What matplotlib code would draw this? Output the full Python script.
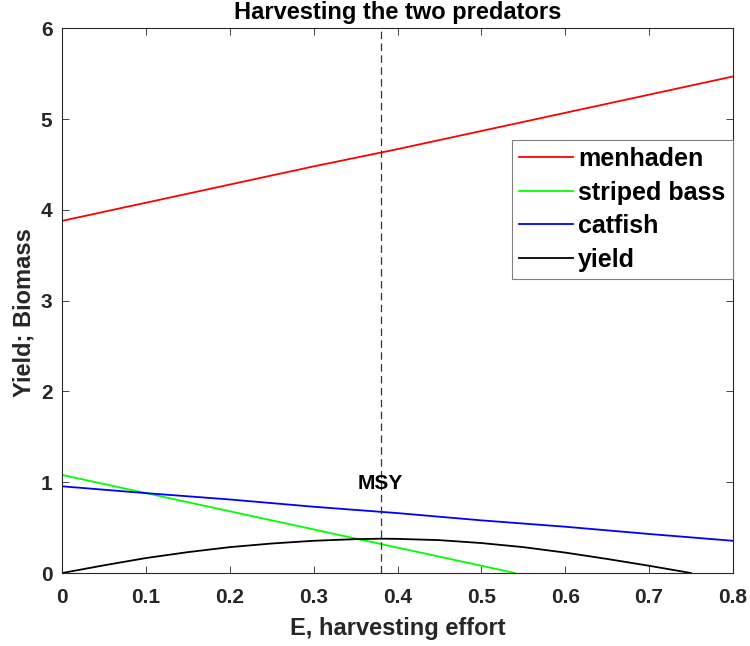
import numpy as np
import matplotlib.pyplot as plt

plt.rcParams['font.family'] = ['Liberation Sans', 'DejaVu Sans']
plt.rcParams['font.weight'] = 'bold'

# values
E_lin = [0.0, 0.1, 0.2, 0.3, 0.4, 0.5, 0.6, 0.7, 0.8]
menhaden = [3.88, 4.08, 4.28, 4.48, 4.67, 4.87, 5.07, 5.27, 5.47]
catfish = [0.955, 0.88, 0.81, 0.73, 0.66, 0.58, 0.51, 0.43, 0.355]

E_bass = [0.0, 0.1, 0.2, 0.3, 0.4, 0.5, 0.54]
striped_bass = [1.08, 0.88, 0.68, 0.48, 0.28, 0.08, 0.0]

E_yield = [0.0, 0.05, 0.1, 0.15, 0.2, 0.25, 0.3, 0.35, 0.38, 0.4,
           0.45, 0.5, 0.55, 0.6, 0.65, 0.7, 0.75]
yield_ = [0.0, 0.085, 0.165, 0.23, 0.285, 0.325, 0.355, 0.373, 0.378, 0.376,
          0.362, 0.33, 0.285, 0.225, 0.155, 0.08, 0.0]

E_msy = 0.38
msy_label_y = 0.99

txt = '#262626'

fig = plt.figure(figsize=(7.5, 6.46), dpi=100)
ax = fig.add_axes([0.083, 0.113, 0.894, 0.843])

ax.plot(E_lin, menhaden, color=(1, 0, 0), lw=1.3, label='menhaden')
ax.plot(E_bass, striped_bass, color=(0, 1, 0), lw=1.3, label='striped bass')
ax.plot(E_lin, catfish, color=(0, 0, 1), lw=1.3, label='catfish')
ax.plot(E_yield, yield_, color='k', lw=1.3, label='yield')

ax.axvline(E_msy, color='#333333', lw=0.9, ls=(0, (6, 3.5)))
ax.text(E_msy, msy_label_y, 'MSY', ha='center', va='center',
        fontsize=15, fontweight='bold', color='k')

ax.set_xlim(0, 0.8)
ax.set_ylim(0, 6)
ax.set_xticks(np.arange(0, 0.81, 0.1))
ax.set_xticklabels(['0', '0.1', '0.2', '0.3', '0.4', '0.5', '0.6', '0.7', '0.8'])
ax.set_yticks(range(0, 7))
ax.tick_params(direction='in', top=True, right=True, length=5, width=0.6,
               labelsize=15, colors=txt)
ax.tick_params(axis='x', pad=11)
ax.tick_params(axis='y', pad=7)
for lab in ax.get_xticklabels() + ax.get_yticklabels():
    lab.set_fontweight('bold')
for sp in ax.spines.values():
    sp.set_color(txt)
    sp.set_linewidth(0.8)

ax.set_xlabel('E, harvesting effort', fontsize=17, fontweight='bold',
              color=txt, labelpad=7)
ax.set_ylabel('Yield; Biomass', fontsize=17, fontweight='bold', color=txt)
ax.yaxis.set_label_coords(-0.040, 0.479)
ax.set_title('Harvesting the two predators', fontsize=17, fontweight='bold',
             color='k', pad=7)

leg = ax.legend(loc='upper right', bbox_to_anchor=(1.0, 0.796), borderaxespad=0,
                fancybox=False, framealpha=1, edgecolor='#7f7f7f',
                prop={'size': 18, 'weight': 'bold'}, handlelength=2.15,
                handletextpad=0.2, labelspacing=0.38, borderpad=0.3)
leg.get_frame().set_linewidth(0.8)

fig.savefig('out.png', dpi=100)
